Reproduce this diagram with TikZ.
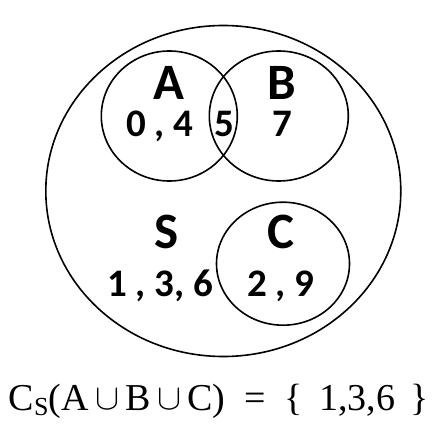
\documentclass[tikz,border=0pt]{standalone}
\usepackage{fontspec}
\setmainfont{Carlito}
\newfontfamily\serifrm{Liberation Serif}
\usetikzlibrary{shapes}
\newcommand{\Union}{\,\raisebox{0.05ex}{\scalebox{1.45}{$\cup$}}\,}
\tikzset{
  venn/.style={draw, ellipse, line width=1.6pt, inner sep=0pt},
  setname/.style={anchor=base, inner sep=0pt, font=\bfseries\fontsize{51}{51}\selectfont},
  elems/.style={anchor=base, inner sep=0pt, font=\bfseries\fontsize{39}{39}\selectfont}
}
\begin{document}
\begin{tikzpicture}[x=1pt,y=-1pt]
			\useasboundingbox (0,0) rectangle (446,446);
			% Define the sets
			\node[venn, minimum width=355pt, minimum height=331pt] (S) at (223.3,191) {};
			\node[venn, minimum width=136pt, minimum height=130pt] (A) at (169.3,116) {};
			\node[venn, minimum width=139pt, minimum height=130pt] (B) at (278.8,116) {};
			\node[venn, minimum width=133pt, minimum height=123pt] (C) at (283,263.7) {};

			% Names and elements
			\node[setname] (nameA) at (169,100) {A};
			\node[setname] (nameB) at (282,100) {B};
			\node[setname] (nameS) at (167,248) {S};
			\node[setname] (nameC) at (281,248) {C};
			\node[elems] (elA) at (160,136.7) {0 , 4};
			\node[elems] (elAB) at (224,136.7) {5};
			\node[elems] (elB) at (282,136.7) {7};
			\node[elems] (elS) at (160,296) {1 , 3, 6};
			\node[elems] (elC) at (281,296) {2 , 9};

			% Complement
			\node[anchor=base, inner sep=0pt, font=\serifrm\fontsize{38}{38}\selectfont] (compl) at (219,410)
				{C\raisebox{-0.3ex}{\fontsize{26}{26}\selectfont S}(A\Union B\Union C) \ = \ \{ \,1,3,6 \,\}};
		\end{tikzpicture}
\end{document}
